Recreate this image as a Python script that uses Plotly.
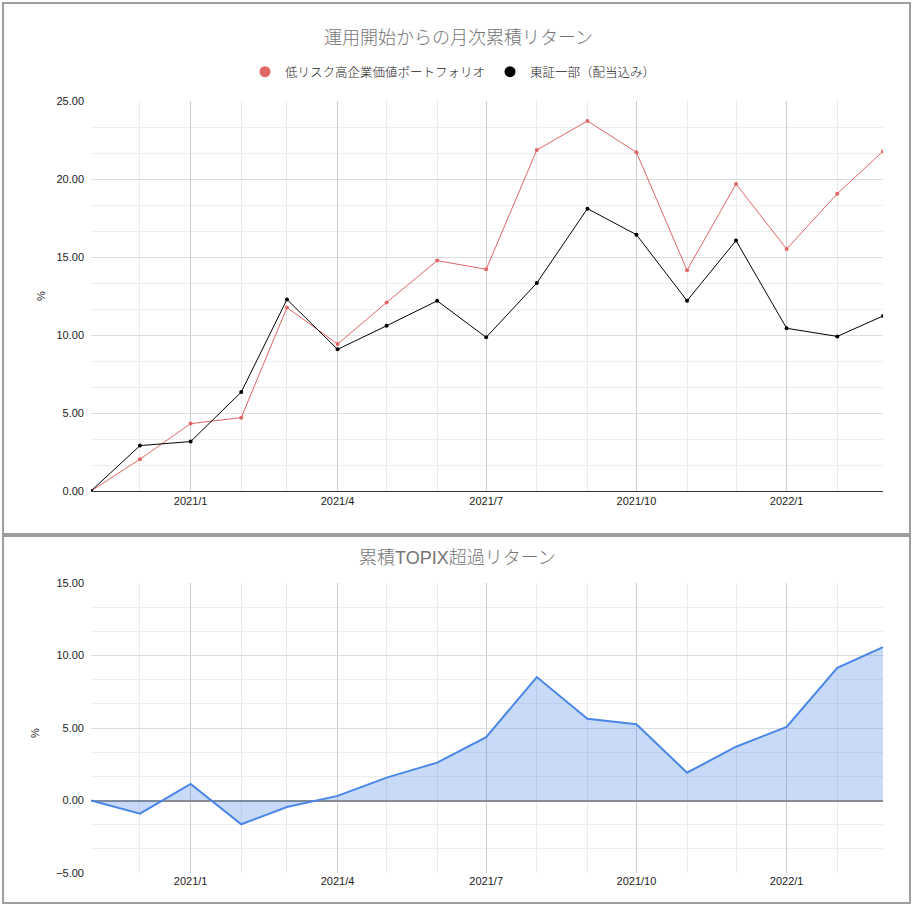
import plotly.graph_objects as go

# 月次データ（運用開始 2020/11 から）
months = [
    "2020-11-01", "2020-12-01", "2021-01-01", "2021-02-01", "2021-03-01",
    "2021-04-01", "2021-05-01", "2021-06-01", "2021-07-01", "2021-08-01",
    "2021-09-01", "2021-10-01", "2021-11-01", "2021-12-01", "2022-01-01",
    "2022-02-01", "2022-03-01",
]
portfolio = [0.00, 2.04, 4.32, 4.70, 11.76, 9.42, 12.08, 14.77, 14.21,
             21.86, 23.72, 21.71, 14.15, 19.68, 15.51, 19.06, 21.77]
topix = [0.00, 2.91, 3.17, 6.34, 12.28, 9.08, 10.59, 12.19, 9.85,
         13.33, 18.10, 16.43, 12.20, 16.05, 10.43, 9.91, 11.22]
excess = [0.00, -0.91, 1.14, -1.64, -0.45, 0.32, 1.58, 2.61, 4.37,
          8.51, 5.63, 5.26, 1.92, 3.71, 5.08, 9.15, 10.57]

name_pf = "低リスク高企業価値ポートフォリオ"
name_tp = "東証一部（配当込み）"
title_top = "運用開始からの月次累積リターン"
title_bottom = "累積TOPIX超過リターン"

RED = "#e06666"
BLUE = "#4a86e8"
FONT = "Liberation Sans, Arial, Noto Sans CJK JP, sans-serif"

W, H = 914, 907


def px_x(v):
    return v / W


def px_y(v):
    return 1 - v / H


fig = go.Figure()

# 上段：累積リターン
fig.add_trace(go.Scatter(
    x=months, y=portfolio, mode="lines+markers", name=name_pf,
    line=dict(color=RED, width=1), marker=dict(color=RED, size=4),
    xaxis="x", yaxis="y", showlegend=False,
))
fig.add_trace(go.Scatter(
    x=months, y=topix, mode="lines+markers", name=name_tp,
    line=dict(color="#000000", width=1), marker=dict(color="#000000", size=4),
    xaxis="x", yaxis="y", showlegend=False,
))
# 凡例用（丸だけ表示）
for nm, c in [(name_pf, RED), (name_tp, "#000000")]:
    fig.add_trace(go.Scatter(
        x=[None], y=[None], mode="markers", name=nm,
        marker=dict(color=c, size=11), xaxis="x", yaxis="y",
    ))

# 下段：超過リターン
fig.add_trace(go.Scatter(
    x=months, y=excess, mode="lines", fill="tozeroy",
    line=dict(color=BLUE, width=2), fillcolor="rgba(74,134,232,0.3)",
    xaxis="x2", yaxis="y2", showlegend=False,
))

x_dom = [px_x(91), px_x(883)]
xaxis_common = dict(
    type="date",
    range=[months[0], months[-1]],
    dtick="M3",
    tick0="2021-01-01",
    tickformat="%Y/%-m",
    showgrid=True,
    gridcolor="#cccccc",
    minor=dict(dtick="M1", showgrid=True, gridcolor="#ebebeb"),
    zeroline=False,
    tickfont=dict(size=11, color="#222222"),
    domain=x_dom,
    automargin=False,
    fixedrange=True,
)
yaxis_common = dict(
    dtick=5,
    tickformat=".2f",
    showgrid=True,
    gridcolor="#dddddd",
    minor=dict(dtick=5 / 3, showgrid=True, gridcolor="#eeeeee"),
    tickfont=dict(size=11, color="#222222"),
    ticklabelstandoff=6,
    automargin=False,
    fixedrange=True,
)

fig.update_layout(
    width=W, height=H,
    margin=dict(l=0, r=0, t=0, b=0, autoexpand=False),
    paper_bgcolor="white", plot_bgcolor="white",
    font=dict(family=FONT, color="#222222"),
    xaxis=dict(xaxis_common, anchor="y", showline=True, linecolor="#333333",
               linewidth=1),
    yaxis=dict(yaxis_common, range=[0, 25], zeroline=False,
               domain=[px_y(491), px_y(101)]),
    xaxis2=dict(xaxis_common, anchor="y2", showline=False),
    yaxis2=dict(yaxis_common, range=[-5, 15], zeroline=True,
                zerolinecolor="#8c8c8c", zerolinewidth=2,
                domain=[px_y(873), px_y(583)]),
    legend=dict(orientation="h", x=px_x(453), xanchor="center",
                y=px_y(72), yanchor="middle",
                font=dict(size=12.5, color="#222222", weight=300),
                itemwidth=30, tracegroupgap=0, bgcolor="rgba(0,0,0,0)"),
    showlegend=True,
)

# タイトルと軸ラベル
fig.add_annotation(text=title_top, x=px_x(459), y=px_y(38), xref="paper",
                   yref="paper", yanchor="middle", showarrow=False,
                   font=dict(size=18, color="#757575", weight=300))
fig.add_annotation(text=title_bottom, x=px_x(457), y=px_y(558), xref="paper",
                   yref="paper", yanchor="middle", showarrow=False,
                   font=dict(size=18, color="#757575", weight=300))
fig.add_annotation(text="%", x=px_x(33), y=px_y(296), xref="paper",
                   yref="paper", yanchor="middle", showarrow=False,
                   textangle=-90, font=dict(size=11, color="#222222"))
fig.add_annotation(text="%", x=px_x(27), y=px_y(733), xref="paper",
                   yref="paper", yanchor="middle", showarrow=False,
                   textangle=-90, font=dict(size=11, color="#222222"))

# 2つのパネルの枠線
for top, bottom in [(3, 534), (536, 903)]:
    fig.add_shape(type="rect", xref="paper", yref="paper",
                  x0=px_x(3), x1=px_x(910), y0=px_y(bottom), y1=px_y(top),
                  line=dict(color="#9e9e9e", width=2), layer="below")

fig.write_html("out.html", config={"displayModeBar": False},
               post_script="document.body.style.margin='0';")
